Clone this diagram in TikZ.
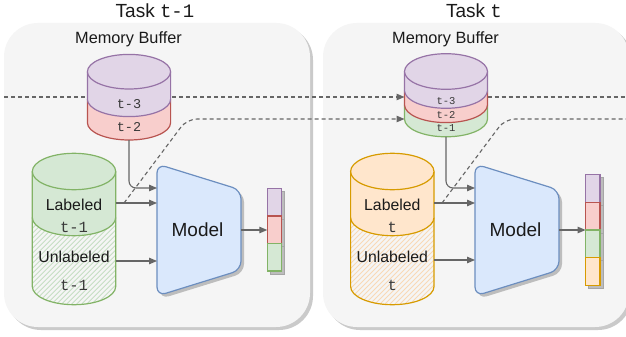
\documentclass[tikz,border=0pt]{standalone}
\usepackage{fontspec}
\setmainfont{Liberation Sans}
\setmonofont{Liberation Mono}
\usetikzlibrary{arrows.meta}
\definecolor{panelfill}{HTML}{F5F5F5}
\definecolor{panelshadow}{HTML}{CACACA}
\definecolor{purpfill}{HTML}{E1D5E7}
\definecolor{purpstroke}{HTML}{9673A6}
\definecolor{redfill}{HTML}{F8CECC}
\definecolor{redstroke}{HTML}{B85450}
\definecolor{grnfill}{HTML}{D5E8D4}
\definecolor{grnstroke}{HTML}{82B366}
\definecolor{grnhatch}{HTML}{C6DEC3}
\definecolor{blufill}{HTML}{DAE8FC}
\definecolor{blustroke}{HTML}{6C8EBF}
\definecolor{orgfill}{HTML}{FFE6CC}
\definecolor{orgstroke}{HTML}{D79B00}
\definecolor{orghatch}{HTML}{F9D8B6}
\definecolor{linegray}{HTML}{666666}
\definecolor{txt}{HTML}{1A1A1A}
\definecolor{monotxt}{HTML}{3A3A3A}
\definecolor{objshadow}{HTML}{BDBDBD}

% cylinder section: #1 cx, #2 c1 (top ellipse centre), #3 c2 (bottom ellipse centre), #4 rx, #5 ry, #6 fill, #7 stroke
\newcommand{\cylsecpath}[5]{({#1-#4},#2) -- ({#1-#4},#3) .. controls ({#1-#4},{#3+0.5523*#5}) and ({#1-0.5523*#4},{#3+#5}) .. (#1,{#3+#5}) .. controls ({#1+0.5523*#4},{#3+#5}) and ({#1+#4},{#3+0.5523*#5}) .. ({#1+#4},#3) -- ({#1+#4},#2)}
\newcommand{\cylsec}[7]{%
  \fill[#6] \cylsecpath{#1}{#2}{#3}{#4}{#5} -- cycle;
  \draw[#7,cylline] \cylsecpath{#1}{#2}{#3}{#4}{#5};
}
\newcommand{\cylhatch}[7]{%
  \begin{scope}
    \clip \cylsecpath{#1}{#2}{#3}{#4}{#5} -- cycle;
    \foreach \k in {-170,-165,...,60} {\draw[#6,line width=0.8pt] ({#1+\k},{#3+#5+2}) -- ++(140,-140);}
  \end{scope}
  \draw[#7,cylline] \cylsecpath{#1}{#2}{#3}{#4}{#5};
}
\newcommand{\cyltop}[6]{%
  \filldraw[fill=#5,draw=#6,cylline] (#1,#2) ellipse [x radius=#3, y radius=#4];
}
\newcommand{\modelshape}[1]{(#1,164) -- ({#1+84},190) -- ({#1+84},270) -- (#1,296) -- cycle}

\begin{document}
\begin{tikzpicture}[x=1pt,y=-1pt,
  cylline/.style={line width=1.2pt},
  conn/.style={draw=linegray, line width=1.1pt, -{Triangle[length=8pt,width=6.5pt]}},
  dconn/.style={conn, dash pattern=on 4pt off 3pt},
  dline/.style={draw=linegray, line width=1.1pt, dash pattern=on 4pt off 3pt},
  ghost/.style={inner sep=0pt, outer sep=0pt, minimum width=#1},
  ttl/.style={font=\fontsize{19}{22}\selectfont, text=txt, inner sep=0pt},
  memlbl/.style={font=\fontsize{16.3}{19}\selectfont, text=txt, inner sep=0pt},
  cyllbl/.style={font=\fontsize{15.8}{18}\selectfont, text=txt, inner sep=0pt},
  monolbl/.style={font=\ttfamily\fontsize{15.5}{18}\selectfont, text=monotxt, inner sep=0pt},
  memmono/.style={font=\ttfamily\fontsize{#1}{#1}\selectfont, text=monotxt, inner sep=0pt},
  modellbl/.style={font=\fontsize{19}{22}\selectfont, text=txt, inner sep=0pt},
  segshadow/.style={fill=objshadow, draw=objshadow!88!black, line width=0.8pt},
  seg/.style={line width=1.2pt}
]
\fill[white] (0,0) rectangle (626,337);
\clip (0,0) rectangle (626,337);
\useasboundingbox (0,0) rectangle (626,337);

% panels
\fill[panelshadow, rounded corners=34pt] (7,26) rectangle (313,330);
\fill[panelfill, rounded corners=34pt] (4,23) rectangle (310,327);
\fill[panelshadow, rounded corners=34pt] (326,26) rectangle (632,330);
\fill[panelfill, rounded corners=34pt] (323,23) rectangle (629,327);

% titles
\node[ttl] (title1) at (155,11) {Task \texttt{t-1}};
\node[ttl] (title2) at (474,11) {Task \texttt{t}};
\node[memlbl] (mb1) at (128.5,39) {Memory Buffer};
\node[memlbl] (mb2) at (445.5,39) {Memory Buffer};

% invisible nodes over the shapes
\node[ghost=83.2pt, minimum height=85.6pt] (mem1) at (129,97.2) {};
\node[ghost=83pt, minimum height=83.1pt] (mem2) at (446,95.25) {};
\node[ghost=83.4pt, minimum height=151.4pt] (lab1) at (74,229) {};
\node[ghost=83.4pt, minimum height=151.4pt] (lab2) at (392.3,229) {};
\node[ghost=84pt, minimum height=132pt] (m1) at (199,230) {};
\node[ghost=84pt, minimum height=132pt] (m2) at (517,230) {};
\node[ghost=14.4pt, minimum height=82.7pt] (bar1) at (274.5,229.65) {};
\node[ghost=14.4pt, minimum height=111.4pt] (bar2) at (592.8,230) {};

% ports
\coordinate (m1a) at (157,188);
\coordinate (m1b) at (157,203);
\coordinate (m1c) at (157,261);
\coordinate (m2a) at (475,188);
\coordinate (m2b) at (475,203);
\coordinate (m2c) at (475,260);
\coordinate (d1s) at (4,97);
\coordinate (d2e) at (626,97);
\coordinate (d3s) at (124,203);
\coordinate (d3k) at (187,119);
\coordinate (d3e) at (404.5,119);
\coordinate (d4s) at (442,203);
\coordinate (d4k) at (505,119);
\coordinate (d4e) at (626,119);

% dashed connectors (behind cylinders)
\draw[dconn] (d1s) -- (d1s -| mem2.west);
\draw[dline] (mem2.east |- d2e) -- (d2e);
\draw[dconn, rounded corners=10pt] (d3s) -- (d3k) -- (d3e);
\draw[dline, rounded corners=10pt] (d4s) -- (d4k) -- (d4e);

% memory buffer 1
\cylsec{129}{99.3}{122.7}{41.6}{17.3}{redfill}{redstroke}
\cylsec{129}{71.7}{99.3}{41.6}{17.3}{purpfill}{purpstroke}
\cyltop{129}{71.7}{41.6}{17.3}{purpfill}{purpstroke}
\node[memmono=13.5] (m1t3) at (129,104) {t-3};
\node[memmono=13.5] (m1t2) at (129,127.5) {t-2};

% memory buffer 2
\cylsec{446}{104.8}{119}{41.5}{17.8}{grnfill}{grnstroke}
\cylsec{446}{90.5}{104.8}{41.5}{17.8}{redfill}{redstroke}
\cylsec{446}{71.5}{90.5}{41.5}{17.8}{purpfill}{purpstroke}
\cyltop{446}{71.5}{41.5}{17.8}{purpfill}{purpstroke}
\node[memmono=10.5] (m2t3) at (446,101.5) {t-3};
\node[memmono=10.5] (m2t2) at (446,115.5) {t-2};
\node[memmono=10.5] (m2t1) at (446,128.5) {t-1};

% labeled / unlabeled 1
\cylhatch{74}{217.5}{286.5}{41.7}{18.2}{grnhatch}{grnstroke}
\cylsec{74}{171.5}{217.5}{41.7}{18.2}{grnfill}{grnstroke}
\cyltop{74}{171.5}{41.7}{18.2}{grnfill}{grnstroke}
\node[cyllbl] (l1a) at (74,205) {Labeled};
\node[monolbl] (l1b) at (74,227) {t-1};
\node[cyllbl] (u1a) at (74,257) {Unlabeled};
\node[monolbl] (u1b) at (74,285) {t-1};

% labeled / unlabeled 2
\cylhatch{392.3}{217.5}{286.5}{41.7}{18.2}{orghatch}{orgstroke}
\cylsec{392.3}{171.5}{217.5}{41.7}{18.2}{orgfill}{orgstroke}
\cyltop{392.3}{171.5}{41.7}{18.2}{orgfill}{orgstroke}
\node[cyllbl] (l2a) at (392.3,205) {Labeled};
\node[monolbl] (l2b) at (392.3,227) {t};
\node[cyllbl] (u2a) at (392.3,257) {Unlabeled};
\node[monolbl] (u2b) at (392.3,285) {t};

% models
\fill[objshadow, rounded corners=9pt, shift={(3,3)}] \modelshape{157};
\filldraw[fill=blufill, draw=blustroke, line width=1.2pt, rounded corners=9pt] \modelshape{157};
\node[modellbl] (ml1) at (197.5,229.5) {Model};
\fill[objshadow, rounded corners=9pt, shift={(3,3)}] \modelshape{475};
\filldraw[fill=blufill, draw=blustroke, line width=1.2pt, rounded corners=9pt] \modelshape{475};
\node[modellbl] (ml2) at (515.5,229.5) {Model};

% output bars
\foreach \t/\b in {188.3/216,216/243.3,243.3/271}
  {\draw[segshadow] (270.3,{\t+3}) rectangle (284.7,{\b+3});}
\draw[seg, fill=purpfill, draw=purpstroke] (267.3,188.3) rectangle (281.7,216);
\draw[seg, fill=redfill, draw=redstroke] (267.3,216) rectangle (281.7,243.3);
\draw[seg, fill=grnfill, draw=grnstroke] (267.3,243.3) rectangle (281.7,271);

\foreach \t/\b in {174.3/202.3,202.3/230,230/257.7,257.7/285.7}
  {\draw[segshadow] (588.6,{\t+3}) rectangle (603,{\b+3});}
\draw[seg, fill=purpfill, draw=purpstroke] (585.6,174.3) rectangle (600,202.3);
\draw[seg, fill=redfill, draw=redstroke] (585.6,202.3) rectangle (600,230);
\draw[seg, fill=grnfill, draw=grnstroke] (585.6,230) rectangle (600,257.7);
\draw[seg, fill=orgfill, draw=orgstroke] (585.6,257.7) rectangle (600,285.7);

% solid connectors
\draw[conn, rounded corners=7pt] (mem1.south) |- (m1a);
\draw[conn] (lab1.east |- m1b) -- (m1b);
\draw[conn] (lab1.east |- m1c) -- (m1c);
\draw[conn] (m1.east) -- (m1.east -| bar1.west);
\draw[conn, rounded corners=7pt] (mem2.south) |- (m2a);
\draw[conn] (lab2.east |- m2b) -- (m2b);
\draw[conn] (lab2.east |- m2c) -- (m2c);
\draw[conn] (m2.east) -- (m2.east -| bar2.west);
\end{tikzpicture}
\end{document}
